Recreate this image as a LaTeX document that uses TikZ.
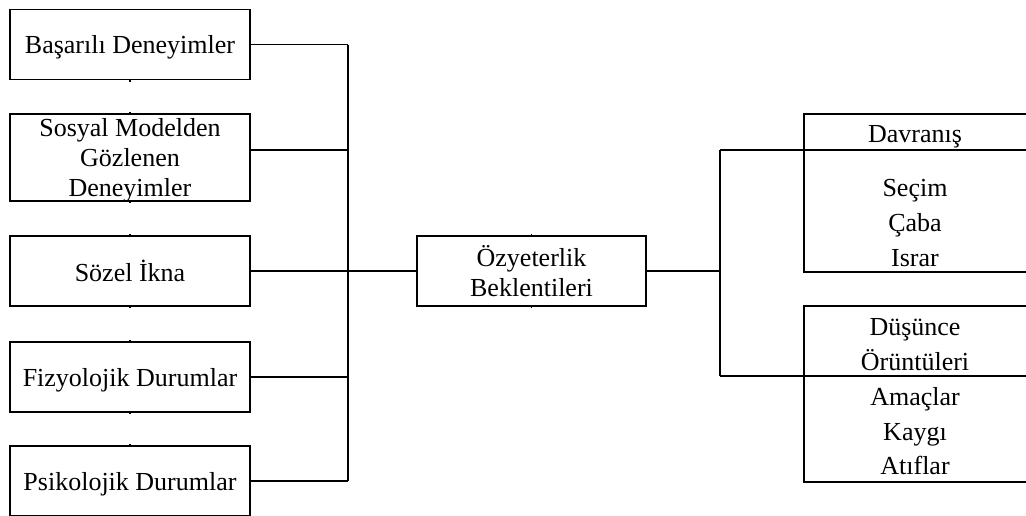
\documentclass[tikz,border=0pt]{standalone}
\usepackage{fontspec}
\setmainfont{Liberation Serif}
\usetikzlibrary{calc}
\begin{document}
\begin{tikzpicture}[x=0.5pt,y=-0.5pt,
  line width=0.8pt,
  every node/.style={font=\fontsize{13}{15}\selectfont},
  srcbox/.style={draw, minimum width=120pt, minimum height=35pt, inner sep=0pt, text depth=0pt, align=center},
  midbox/.style={draw, minimum width=114.5pt, minimum height=35pt, inner sep=0pt, align=center},
  outtext/.style={inner sep=0pt, align=center},
  tick/.style={line width=0.8pt}]
\useasboundingbox (0,0) rectangle (1026,515);
\clip (0,0) rectangle (1026,515);

% source boxes on the left
\node[srcbox] (b1) at (130,44.5) {Başarılı Deneyimler};
\node[srcbox, minimum height=43.5pt, font=\fontsize{13}{15.2}\selectfont] (b2) at (130,157.5) {Sosyal Modelden\\Gözlenen\\Deneyimler};
\node[srcbox] (b3) at (130,271) {Sözel İkna};
\node[srcbox] (b4) at (130,377) {Fizyolojik Durumlar};
\node[srcbox] (b5) at (130,481) {Psikolojik Durumlar};

% central box
\node[midbox] (c) at (531.5,271) {Özyeterlik\\Beklentileri};

% small marks at the middle of the box edges
\foreach \n in {b2,b3,b4,b5,c} \draw[tick] (\n.north) -- ++(0,-1.5);
\foreach \n in {b1,b2,b3,b4,c} \draw[tick] (\n.south) -- ++(0,1.5);

% collecting bus on the left
\coordinate (bustop) at (348,44.5);
\coordinate (busbot) at (348,481);
\coordinate (b2p) at ($(b2.east)+(0,-7.5)$);
\draw (bustop) -- (busbot);
\draw (b1.east) -- (b1.east -| bustop);
\draw (b2p) -- (b2p -| bustop);
\draw (b4.east) -- (b4.east -| bustop);
\draw (b5.east) -- (b5.east -| bustop);
\draw (b3.east) -- (c.west);

% branching on the right
\coordinate (rj) at (720,271);
\coordinate (rtop) at (720,150);
\coordinate (rbot) at (720,376);
\draw (c.east) -- (rj);
\draw (rtop) -- (rbot);
\draw (rtop) -- (1030,150);
\draw (rbot) -- (1030,376);

% outcome boxes, open on the right
\coordinate (r1a) at (804,114);
\coordinate (r1b) at (804,272);
\coordinate (r2a) at (804,306);
\coordinate (r2b) at (804,482);
\draw (1030,114) -- (r1a) -- (r1b) -- (1030,272);
\draw (1030,306) -- (r2a) -- (r2b) -- (1030,482);

\node[outtext] (t1) at (915,137) {Davranış};
\node[outtext, font=\fontsize{13}{17.3}\selectfont] (t2) at (915,223) {Seçim\\Çaba\\Israr};
\node[outtext, font=\fontsize{13}{17.4}\selectfont] (t3) at (915,397) {Düşünce\\Örüntüleri\\Amaçlar\\Kaygı\\Atıflar};
\end{tikzpicture}
\end{document}
